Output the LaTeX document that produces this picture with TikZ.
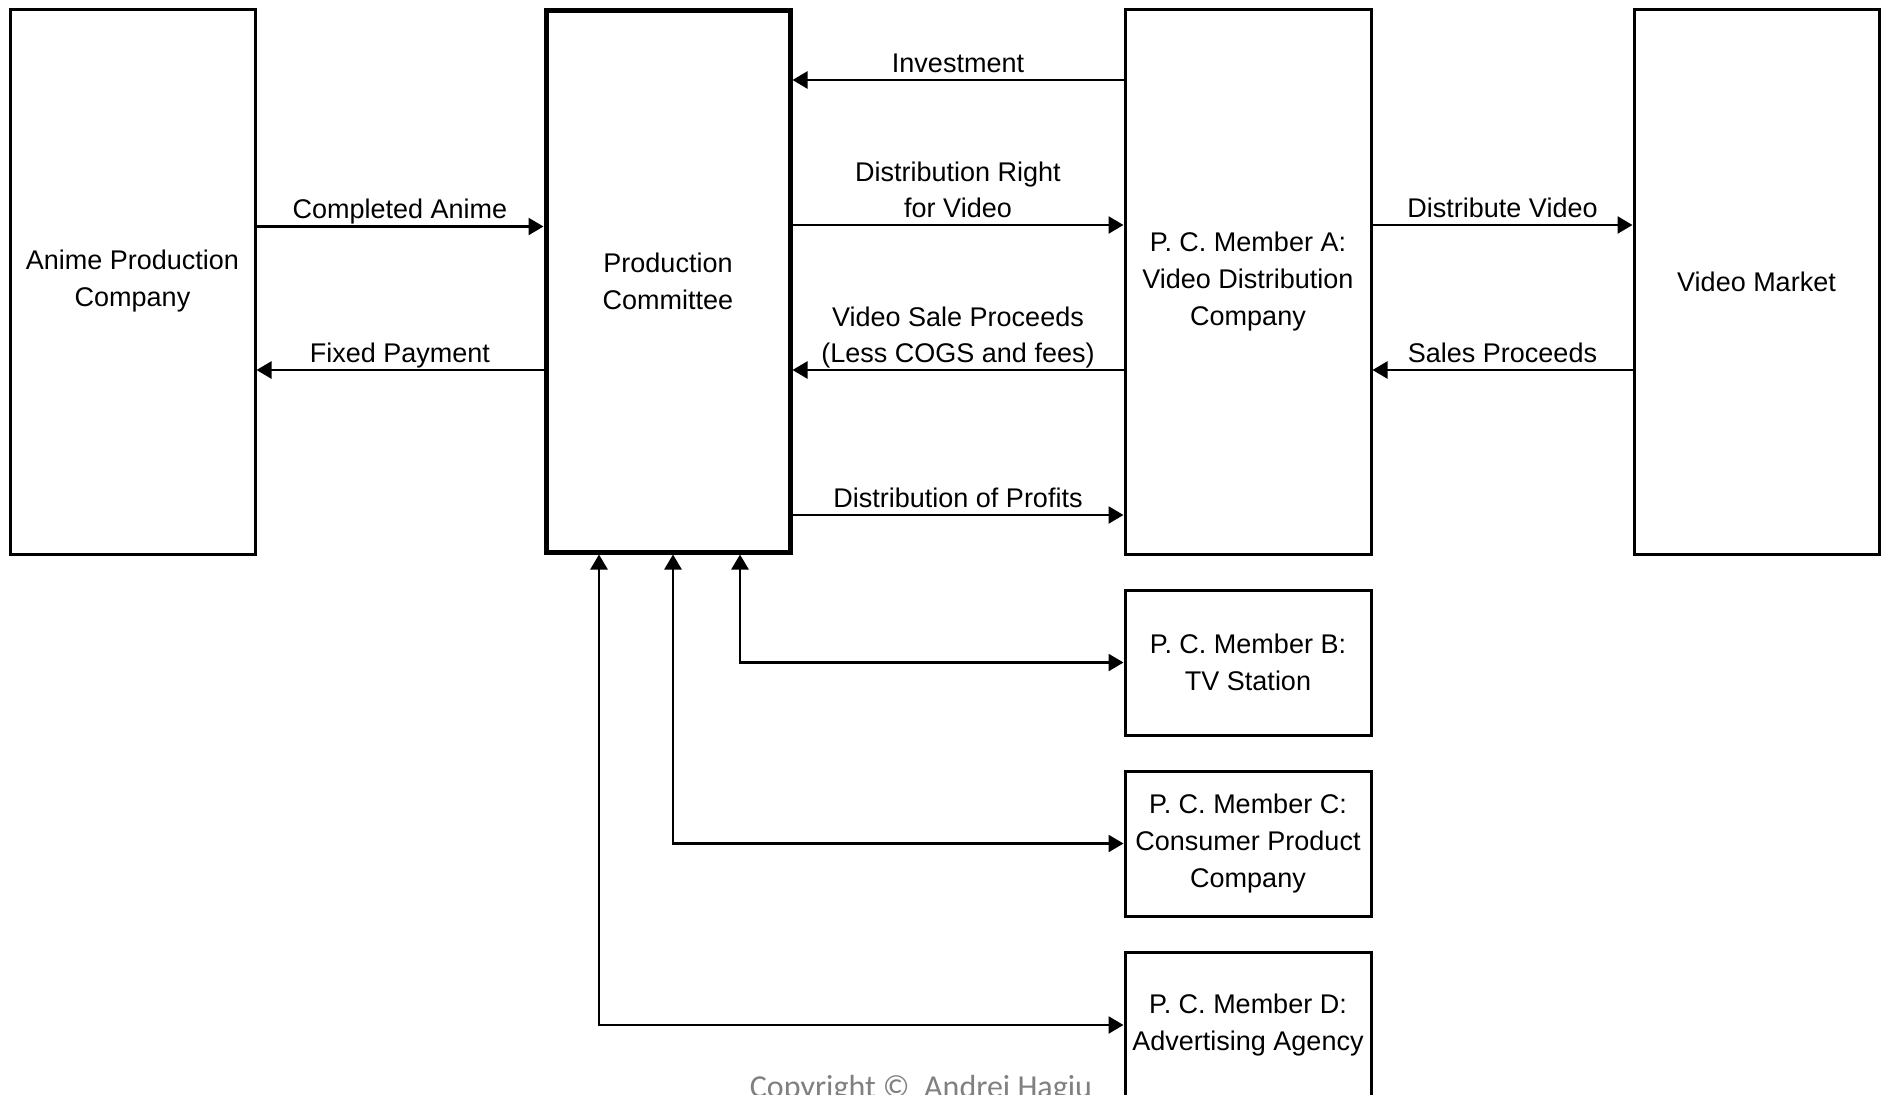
\documentclass[tikz,border=0pt]{standalone}
\usepackage{fontspec}
\setmainfont{Liberation Sans}
\newfontfamily\cfont{Carlito}
\usetikzlibrary{arrows.meta}
\begin{document}
\begin{tikzpicture}[x=1pt,y=-1pt,
  box/.style={draw, line width=3pt, inner sep=0pt, align=center, font=\fontsize{27}{37}\selectfont},
  pcbox/.style={box, line width=5pt},
  lbl/.style={inner sep=0pt, text depth=0pt, anchor=south, align=center, font=\fontsize{27}{36}\selectfont, yshift=6.5pt},
  arr/.style={line width=2.5pt, -{Triangle[length=15pt,width=17pt]}},
  darr/.style={line width=2.5pt, {Triangle[length=15pt,width=17pt]}-{Triangle[length=15pt,width=17pt]}},
]
\useasboundingbox (0,0) rectangle (1885,1095);

% boxes
\node[box, minimum width=245pt, minimum height=545pt] (apc) at (132.5,281.5) {Anime Production\\Company};
\node[pcbox, minimum width=244pt, minimum height=542pt] (pc) at (668,281) {Production\\Committee};
\node[box, minimum width=246pt, minimum height=545pt] (ma) at (1248,281.5) {P. C. Member A:\\Video Distribution\\Company};
\node[box, minimum width=245pt, minimum height=545pt] (vm) at (1756.5,281.5) {Video Market};
\node[box, minimum width=246pt, minimum height=145pt] (mb) at (1248,662.5) {P. C. Member B:\\TV Station};
\node[box, minimum width=246pt, minimum height=145pt] (mc) at (1248,843.5) {P. C. Member C:\\Consumer Product\\Company};
\node[box, minimum width=246pt, minimum height=146pt] (md) at (1248,1025) {P. C. Member D:\\Advertising Agency};

% row heights
\coordinate (yinv) at (0,80);
\coordinate (yca) at (0,226.5);
\coordinate (ydr) at (0,225);
\coordinate (yvs) at (0,370);
\coordinate (ypr) at (0,515);

% left pair
\draw[arr] (apc.east |- yca) -- (pc.west |- yca) node[lbl, midway] {Completed Anime};
\draw[arr] (pc.west |- yvs) -- (apc.east |- yvs) node[lbl, midway] {Fixed Payment};

% committee <-> member A
\draw[arr] (ma.west |- yinv) -- (pc.east |- yinv) node[lbl, midway] {Investment};
\draw[arr] (pc.east |- ydr) -- (ma.west |- ydr) node[lbl, midway] {Distribution Right\\for Video};
\draw[arr] (ma.west |- yvs) -- (pc.east |- yvs) node[lbl, midway] {Video Sale Proceeds\\(Less COGS and fees)};
\draw[arr] (pc.east |- ypr) -- (ma.west |- ypr) node[lbl, midway] {Distribution of Profits};

% member A <-> market
\draw[arr] (ma.east |- ydr) -- (vm.west |- ydr) node[lbl, midway] {Distribute Video};
\draw[arr] (vm.west |- yvs) -- (ma.east |- yvs) node[lbl, midway] {Sales Proceeds};

% members B, C, D
\coordinate (vx1) at (599,0);
\coordinate (vx2) at (673,0);
\coordinate (vx3) at (740,0);
\draw[darr] (pc.south -| vx3) |- (mb.west);
\draw[darr] (pc.south -| vx2) |- (mc.west);
\draw[darr] (pc.south -| vx1) |- (md.west);

% copyright
\node[font=\cfont\fontsize{32}{38}\selectfont, text=gray, anchor=base, inner sep=0pt] (copy) at (921,1097) {Copyright ©\ \ Andrei Hagiu};
\end{tikzpicture}
\end{document}
